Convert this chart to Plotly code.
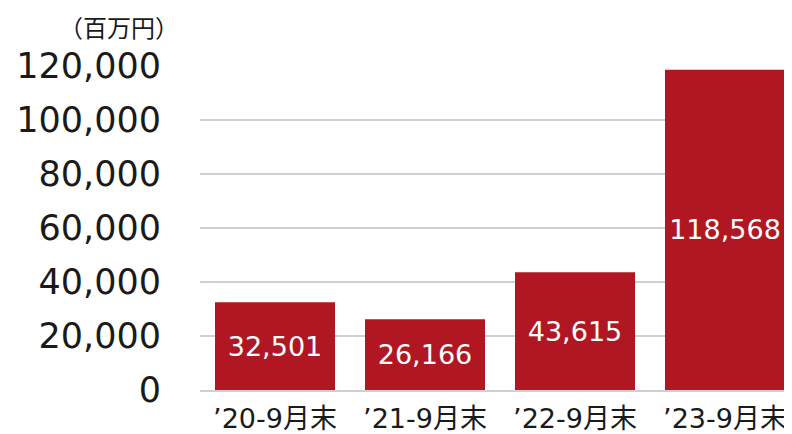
import plotly.graph_objects as go

categories = ["’20-9月末", "’21-9月末", "’22-9月末", "’23-9月末"]
values = [32501, 26166, 43615, 118568]
tick_vals = [0, 20000, 40000, 60000, 80000, 100000, 120000]
tick_text = ["0", "20,000", "40,000", "60,000", "80,000", "100,000", "120,000"]
unit_label = "（百万円）"

FONT = "DejaVu Sans, Noto Sans CJK JP"
BAR_COLOR = "#B01722"
TEXT_COLOR = "#1a1a1a"

fig = go.Figure(
    go.Bar(
        x=categories,
        y=values,
        marker=dict(color=BAR_COLOR, line=dict(width=0)),
        text=[f"{v:,}" for v in values],
        textposition="inside",
        insidetextanchor="middle",
        textangle=0,
        textfont=dict(family=FONT, size=27, color="white"),
        hoverinfo="skip",
    )
)

fig.update_layout(
    width=792,
    height=434,
    margin=dict(l=192, r=0, t=58, b=52),
    paper_bgcolor="white",
    plot_bgcolor="white",
    bargap=0.2,
    showlegend=False,
    font=dict(family=FONT, color=TEXT_COLOR),
    uniformtext=dict(minsize=8, mode="show"),
)

fig.update_yaxes(
    range=[0, 120000],
    tickvals=tick_vals,
    ticktext=tick_text,
    tickfont=dict(family=FONT, size=35, color=TEXT_COLOR),
    showgrid=True,
    gridcolor="#cfcfcf",
    gridwidth=1.5,
    zeroline=False,
    showline=False,
    ticks="",
    ticklabelstandoff=38,
    automargin=False,
)

fig.update_xaxes(
    tickfont=dict(family=FONT, size=27, color=TEXT_COLOR),
    showline=True,
    linecolor="#cfcfcf",
    linewidth=1.5,
    ticks="",
    ticklabelstandoff=4,
    automargin=False,
)

fig.add_annotation(
    text=unit_label,
    xref="paper",
    yref="paper",
    x=(111 - 192) / 600,
    y=382 / 324,
    xanchor="center",
    yanchor="top",
    showarrow=False,
    borderpad=0,
    font=dict(family="Noto Sans CJK JP", size=24, color=TEXT_COLOR),
)

fig.write_html("out.html")
